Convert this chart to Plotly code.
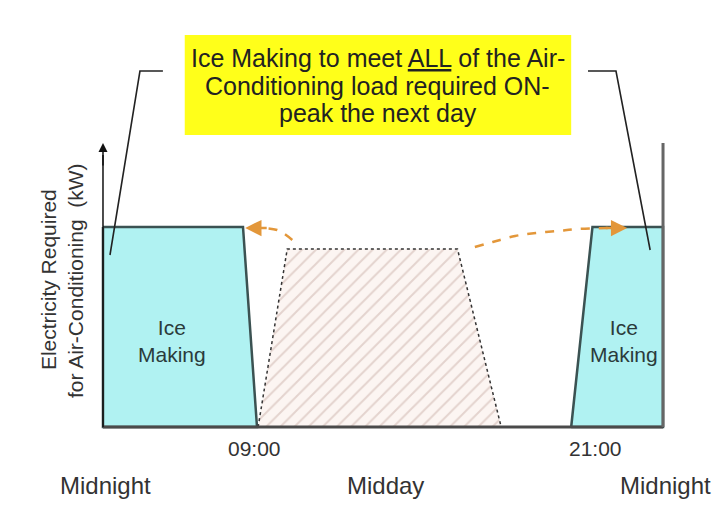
import plotly.graph_objects as go

# ---- schematic data (time in diagram units 0..100 across the day, load in kW-like units) ----
ice_left_t = [0, 25.0, 27.5, 0]
ice_left_kw = [100, 100, 0, 0]
peak_t = [27.7, 32.9, 63.3, 71.1]
peak_kw = [0, 89, 89, 0]
ice_right_t = [83.6, 87.4, 100, 100]
ice_right_kw = [0, 100, 100, 0]

arrow_left_t = [33.8, 31.1, 27.5]
arrow_left_kw = [93.5, 98.5, 99.5]
arrow_right_t = [66.4, 69.6, 73.6, 77.3, 81.2, 84.8, 91.0]
arrow_right_kw = [90.0, 92.5, 95.5, 97.0, 98.0, 99.0, 99.5]

tick_pos = [27.1, 88.0]
tick_text = ["09:00", "21:00"]
day_pos = [0.4, 50.5, 100.5]
day_text = ["Midnight", "Midday", "Midnight"]

title_lines = ["Ice Making to meet <span style='text-decoration:underline'>ALL</span> of the Air-",
               "Conditioning load required ON-",
               "peak the next day"]
ylabel_lines = ["Electricity Required", "for Air-Conditioning\u00a0 (kW)"]

FONT = "Liberation Sans, Arial, sans-serif"
CYAN = "#b0f2f2"
EDGE = "#3b5252"
ORANGE = "#e3973a"

fig = go.Figure()

# off-peak ice making areas
for tx, ky in [(ice_left_t, ice_left_kw), (ice_right_t, ice_right_kw)]:
    fig.add_trace(go.Scatter(x=tx + [tx[0]], y=ky + [ky[0]], mode="lines", fill="toself",
                             fillcolor=CYAN, line=dict(color=EDGE, width=2.5),
                             hoverinfo="skip", showlegend=False))

# on-peak (shifted) air-conditioning load, hatched
fig.add_trace(go.Scatter(x=peak_t, y=peak_kw, mode="lines", fill="toself",
                         fillcolor="rgba(0,0,0,0)",
                         fillpattern=dict(shape="/", fgcolor="#cbb1a9", bgcolor="#fcf5f2",
                                          size=10, solidity=0.2),
                         line=dict(color="#333333", width=1.5, dash="dot"),
                         hoverinfo="skip", showlegend=False))

# orange dashed transfer arrows
for tx, ky in [(arrow_left_t, arrow_left_kw), (arrow_right_t, arrow_right_kw)]:
    fig.add_trace(go.Scatter(x=tx, y=ky, mode="lines", line=dict(color=ORANGE, width=2.5, dash="dash",
                                                                 shape="spline"),
                             hoverinfo="skip", showlegend=False))

shapes = []
# axes
shapes.append(dict(type="line", xref="x", yref="y", x0=0, x1=100, y0=0, y1=0,
                   line=dict(color="#4a4a4a", width=3)))
shapes.append(dict(type="line", xref="x", yref="y", x0=0, x1=0, y0=0, y1=136,
                   line=dict(color="#111111", width=1.5)))
shapes.append(dict(type="line", xref="x", yref="y", x0=100, x1=100, y0=0, y1=142,
                   line=dict(color="#666666", width=3)))
# brackets from the callout box
shapes.append(dict(type="path", xref="x", yref="y", path="M 10.7 178 L 6.6 178 L 1.25 86",
                   line=dict(color="#222222", width=1.6)))
shapes.append(dict(type="path", xref="x", yref="y", path="M 86.6 178 L 91.6 178 L 97.7 88.5",
                   line=dict(color="#222222", width=1.6)))
# yellow callout box
shapes.append(dict(type="rect", xref="x", yref="y", x0=14.6, x1=83.6, y0=146, y1=196,
                   fillcolor="#ffff1a", line=dict(width=0), layer="below"))

annotations = []
# y-axis arrowhead
annotations.append(dict(x=0, y=142, ax=0, ay=130, xref="x", yref="y", axref="x", ayref="y",
                        text="", showarrow=True, arrowhead=2, arrowsize=1.2, arrowwidth=1.5,
                        arrowcolor="#111111"))
# orange arrowheads
annotations.append(dict(x=25.4, y=99.5, ax=29.5, ay=99.5, xref="x", yref="y", axref="x", ayref="y",
                        text="", showarrow=True, arrowhead=2, arrowsize=1.3, arrowwidth=2.5,
                        arrowcolor=ORANGE))
annotations.append(dict(x=93.6, y=99.5, ax=89.5, ay=99.5, xref="x", yref="y", axref="x", ayref="y",
                        text="", showarrow=True, arrowhead=2, arrowsize=1.3, arrowwidth=2.5,
                        arrowcolor=ORANGE))
# callout text
for line, yv in zip(title_lines, [184.5, 170.5, 156.8]):
    annotations.append(dict(x=49.1, y=yv, xref="x", yref="y", text=line, showarrow=False,
                            font=dict(family=FONT, size=25, color="#222222"),
                            xanchor="center", yanchor="middle"))
# y label
for line, xv in zip(ylabel_lines, [-9.8, -5.0]):
    annotations.append(dict(x=xv, y=73.5, xref="x", yref="y", text=line, showarrow=False,
                            textangle=-90, font=dict(family=FONT, size=21, color="#333333"),
                            xanchor="center", yanchor="middle"))
# ice making labels
for xv in [12.3, 93.0]:
    annotations.append(dict(x=xv, y=43, xref="x", yref="y", text="Ice<br>Making", showarrow=False,
                            font=dict(family=FONT, size=21, color="#2b3b3b"),
                            xanchor="center", yanchor="middle"))
# time ticks
for xv, t in zip(tick_pos, tick_text):
    annotations.append(dict(x=xv, y=-10.5, xref="x", yref="y", text=t, showarrow=False,
                            font=dict(family=FONT, size=21, color="#333333"),
                            xanchor="center", yanchor="middle"))
for xv, t in zip(day_pos, day_text):
    annotations.append(dict(x=xv, y=-29, xref="x", yref="y", text=t, showarrow=False,
                            font=dict(family=FONT, size=24, color="#333333"),
                            xanchor="center", yanchor="middle"))

fig.update_layout(
    width=716, height=517,
    margin=dict(l=0, r=0, t=0, b=0),
    paper_bgcolor="white", plot_bgcolor="white",
    xaxis=dict(range=[-18.39, 109.46], visible=False, fixedrange=True),
    yaxis=dict(range=[-45, 213.5], visible=False, fixedrange=True),
    shapes=shapes, annotations=annotations,
    showlegend=False,
)

fig.write_html("out.html", config={"displayModeBar": False, "staticPlot": True},
               post_script="document.body.style.margin='0px';document.body.style.padding='0px';")
